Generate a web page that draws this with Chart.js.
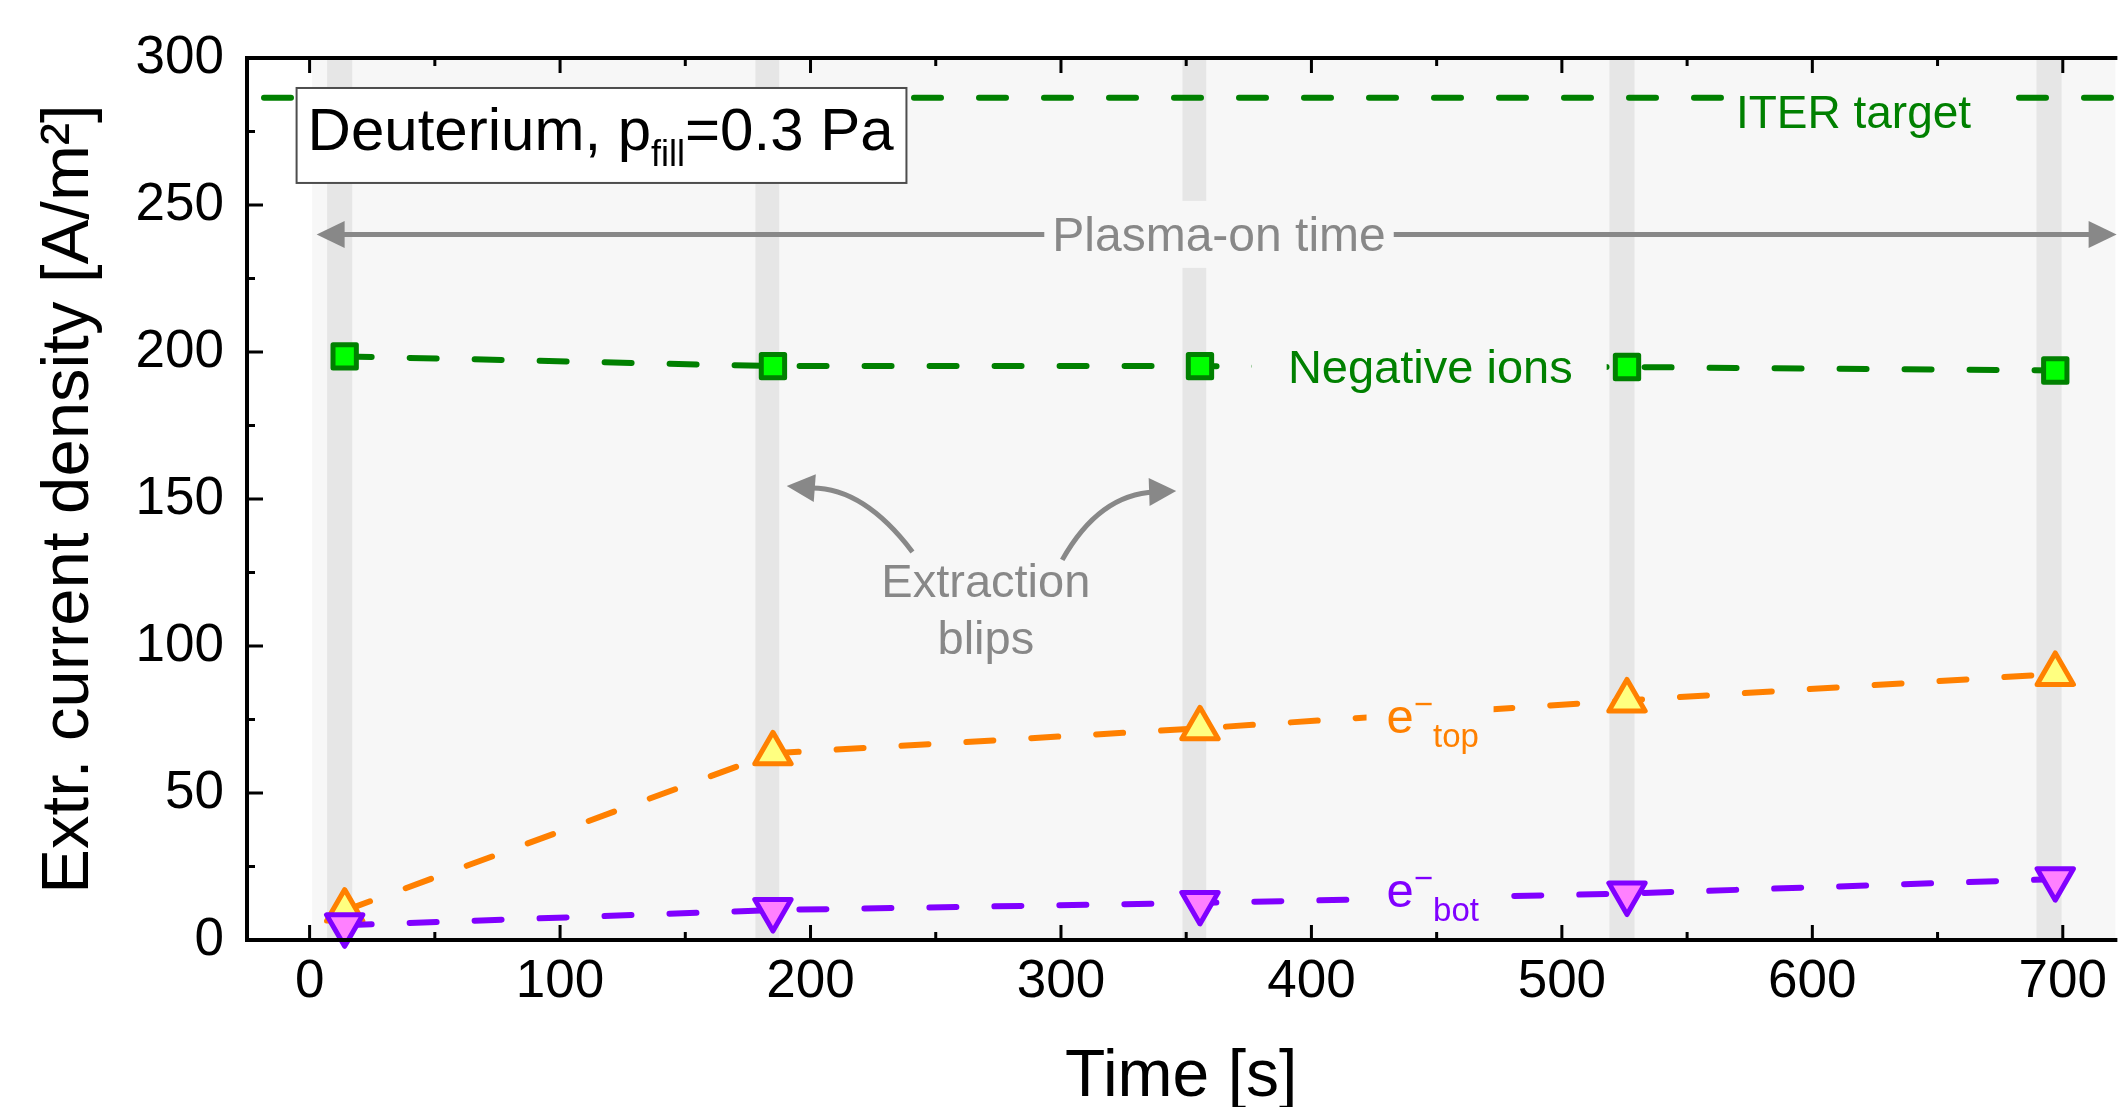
<!DOCTYPE html>
<html lang="en">
<head>
<meta charset="UTF-8" />
<title>Extracted current density during plasma-on time</title>
<style>
  html, body {
    margin: 0;
    padding: 0;
    overflow: hidden;
    background: #fff;
  }
  #currentChart {
    display: block;
  }
</style>
</head>
<body>

<canvas id="currentChart" width="2118" height="1107"></canvas>

<script src="https://cdn.jsdelivr.net/npm/chart.js"></script>
<script>
  // Axis ranges and ticks (the right edge of the original plot is cut off)
  const xRange = [-25, 721];
  const yRange = [0, 300];
  const xTicks = [0, 100, 200, 300, 400, 500, 600, 700];
  const xMinorTicks = [50, 150, 250, 350, 450, 550, 650];
  const yTicks = [0, 50, 100, 150, 200, 250, 300];
  const yMinorTicks = [25, 75, 125, 175, 225, 275];

  // Values read at each extraction blip
  const blipTimes = [14, 185, 355.5, 526, 697];
  const negativeIons = [198.5, 195.2, 195.2, 194.9, 193.7];
  const electronsTop = [10, 63.5, 72, 81.5, 90.5];
  const electronsBot = [5, 10.2, 12.6, 15.8, 20.7];
  const iterTarget = 286.5;

  // Shaded time windows [start, end] in s
  const plasmaOn = [1, 721];
  const blipWindows = [[7, 17], [178, 187.5], [348.5, 358], [519, 529], [689.5, 699.5]];

  const fontFamily = '"Liberation Sans", Arial, Helvetica, sans-serif';
  const green = '#008000', lime = '#00ff00';
  const orange = '#ff8000', yellow = '#ffff80';
  const purple = '#8000ff', pink = '#ff80ff';
  const grey = '#888888', plasmaBg = '#f7f7f7', blipBg = '#e6e6e6';

  const toPoints = vals => blipTimes.map((t, i) => ({ x: t, y: vals[i] }));

  const seriesStyle = {
    borderWidth: 6,
    borderDash: [27, 38],
    borderCapStyle: 'round',
    borderJoinStyle: 'round',
    clip: false
  };

  // helpers for the drawing plugins
  function setFont(ctx, size, color, align) {
    ctx.font = size + 'px ' + fontFamily;
    ctx.fillStyle = color;
    ctx.textAlign = align || 'left';
    ctx.textBaseline = 'alphabetic';
  }

  function arrowHead(ctx, bx, by, tx, ty, half) {
    const dx = tx - bx, dy = ty - by, len = Math.hypot(dx, dy);
    const nx = -dy / len, ny = dx / len;
    ctx.beginPath();
    ctx.moveTo(tx, ty);
    ctx.lineTo(bx + nx * half, by + ny * half);
    ctx.lineTo(bx - nx * half, by - ny * half);
    ctx.closePath();
    ctx.fill();
  }

  // text with a patch of plot background behind it
  function patchedText(ctx, str, x, y, size, color, padL, padR, up, down) {
    setFont(ctx, size, color);
    const w = ctx.measureText(str).width;
    ctx.fillStyle = plasmaBg;
    ctx.fillRect(x - padL, y - up, w + padL + padR, up + down);
    ctx.fillStyle = color;
    ctx.fillText(str, x, y);
  }

  // e^- with subscript, sequential like the original
  function electronLabel(ctx, x, y, sub, color) {
    ctx.fillStyle = plasmaBg;
    ctx.fillRect(x - 20, y - 39, 127, 58);
    setFont(ctx, 49, color);
    ctx.fillText('e', x, y);
    let cx = x + ctx.measureText('e').width;
    setFont(ctx, 33, color);
    ctx.fillText('\u2212', cx, y - 18);
    cx += ctx.measureText('\u2212').width;
    ctx.fillText(sub, cx, y + 14);
  }

  const backgroundPlugin = {
    id: 'plasmaBackground',
    beforeDatasetsDraw(chart) {
      const { ctx, chartArea: a, scales: { x } } = chart;
      ctx.save();
      const x0 = x.getPixelForValue(plasmaOn[0]);
      ctx.fillStyle = plasmaBg;
      ctx.fillRect(x0, a.top, a.right - x0, a.bottom - a.top);
      ctx.fillStyle = blipBg;
      blipWindows.forEach(([s, e]) => {
        const p0 = x.getPixelForValue(s), p1 = x.getPixelForValue(e);
        ctx.fillRect(p0, a.top, p1 - p0, a.bottom - a.top);
      });
      ctx.restore();
      ctx.save();
      ctx.lineJoin = 'round'; // rounder marker corners
    },
    afterDatasetsDraw(chart) {
      chart.ctx.restore();
    }
  };

  const annotationPlugin = {
    id: 'annotations',
    afterDatasetsDraw(chart) {
      const { ctx, chartArea: a, scales: { x, y } } = chart;
      const X = v => x.getPixelForValue(v);
      const Y = v => y.getPixelForValue(v);
      ctx.save();

      // Plasma-on time double arrow
      const ay = Y(240), lx = X(2.8), rx = X(721.5);
      ctx.strokeStyle = grey;
      ctx.fillStyle = grey;
      ctx.lineWidth = 5;
      ctx.beginPath();
      ctx.moveTo(lx + 20, ay);
      ctx.lineTo(rx - 20, ay);
      ctx.stroke();
      arrowHead(ctx, lx + 28, ay, lx, ay, 13.5);
      arrowHead(ctx, rx - 28, ay, rx, ay, 13.5);
      setFont(ctx, 48, grey);
      const pw = ctx.measureText('Plasma-on time').width;
      const pcx = X(363.1), pby = Y(234.4);
      ctx.fillStyle = plasmaBg;
      ctx.fillRect(pcx - pw / 2 - 8, pby - 50, pw + 16, 67);
      setFont(ctx, 48, grey, 'center');
      ctx.fillText('Plasma-on time', pcx, pby);

      // series labels
      patchedText(ctx, 'ITER target', X(569.5), Y(276.2), 46, green, 12, 15, 40, 12);
      patchedText(ctx, 'Negative ions', X(390.6), Y(189.5), 47, green, 36, 34, 40, 12);
      electronLabel(ctx, X(430), Y(70.4), 'top', orange);
      electronLabel(ctx, X(430), Y(11.2), 'bot', purple);

      // Extraction blips note with curved arrows
      setFont(ctx, 47, grey, 'center');
      ctx.fillText('Extraction', X(270), Y(116.7));
      ctx.fillText('blips', X(270), Y(97.3));
      const curves = [
        { s: [240.7, 132], c: [220.8, 154.4], e: [201.7, 153.7], t: [190.5, 154.4] },
        { s: [300.5, 129.3], c: [315.3, 151.7], e: [335.2, 152.4], t: [346, 152.7] }
      ];
      ctx.lineWidth = 5;
      ctx.strokeStyle = grey;
      ctx.fillStyle = grey;
      curves.forEach(cv => {
        ctx.beginPath();
        ctx.moveTo(X(cv.s[0]), Y(cv.s[1]));
        ctx.quadraticCurveTo(X(cv.c[0]), Y(cv.c[1]), X(cv.e[0]) + (cv.t[0] < cv.e[0] ? -6 : 6), Y(cv.e[1]));
        ctx.stroke();
        arrowHead(ctx, X(cv.e[0]), Y(cv.e[1]), X(cv.t[0]), Y(cv.t[1]), 14);
      });

      // condition box
      const bx0 = X(-5.2), bx1 = X(238.3), by0 = Y(289.8), by1 = Y(257.5);
      ctx.fillStyle = '#ffffff';
      ctx.fillRect(bx0, by0, bx1 - bx0, by1 - by0);
      ctx.strokeStyle = '#4d4d4d';
      ctx.lineWidth = 2;
      ctx.strokeRect(bx0, by0, bx1 - bx0, by1 - by0);
      let tx = X(-0.8);
      const tb = Y(268.7);
      setFont(ctx, 60, '#000');
      ctx.fillText('Deuterium, p', tx, tb);
      tx += ctx.measureText('Deuterium, p').width;
      setFont(ctx, 36, '#000');
      ctx.fillText('fill', tx, tb + 16);
      tx += ctx.measureText('fill').width;
      setFont(ctx, 60, '#000');
      ctx.fillText('=0.3 Pa', tx, tb);

      // frame (left, top, bottom; the right side lies outside the picture) with inward ticks
      ctx.strokeStyle = '#000';
      ctx.lineWidth = 4;
      ctx.beginPath();
      ctx.moveTo(a.right + 2, a.top);
      ctx.lineTo(a.left, a.top);
      ctx.lineTo(a.left, a.bottom);
      ctx.lineTo(a.right + 2, a.bottom);
      ctx.stroke();
      ctx.lineWidth = 3;
      ctx.beginPath();
      const tickX = (v, len) => {
        const p = X(v);
        ctx.moveTo(p, a.bottom); ctx.lineTo(p, a.bottom - len);
        ctx.moveTo(p, a.top); ctx.lineTo(p, a.top + len);
      };
      const tickY = (v, len) => {
        const p = Y(v);
        ctx.moveTo(a.left, p); ctx.lineTo(a.left + len, p);
      };
      xTicks.forEach(v => tickX(v, 15));
      xMinorTicks.forEach(v => tickX(v, 8));
      yTicks.forEach(v => tickY(v, 16));
      yMinorTicks.forEach(v => tickY(v, 8));
      ctx.stroke();

      ctx.restore();
    }
  };

  const ctx = document.getElementById('currentChart').getContext('2d');

  new Chart(ctx, {
    type: 'line',
    data: {
      datasets: [
        Object.assign({
          label: 'e- bot',
          data: toPoints(electronsBot),
          borderColor: purple,
          pointStyle: 'triangle',
          pointRotation: 180,
          pointRadius: 21,
          pointBorderWidth: 5,
          pointBackgroundColor: pink,
          pointBorderColor: purple,
          order: 0
        }, seriesStyle),
        Object.assign({
          label: 'e- top',
          data: toPoints(electronsTop),
          borderColor: orange,
          pointStyle: 'triangle',
          pointRadius: 21,
          pointBorderWidth: 5,
          pointBackgroundColor: yellow,
          pointBorderColor: orange,
          order: 1
        }, seriesStyle),
        Object.assign({
          label: 'Negative ions',
          data: toPoints(negativeIons),
          borderColor: green,
          pointStyle: 'rect',
          pointRadius: 16.5,
          pointBorderWidth: 5,
          pointBackgroundColor: lime,
          pointBorderColor: green,
          order: 2
        }, seriesStyle),
        Object.assign({
          label: 'ITER target',
          data: [{ x: xRange[0], y: iterTarget }, { x: xRange[1], y: iterTarget }],
          borderColor: green,
          pointRadius: 0,
          borderDashOffset: 48,
          order: 3
        }, seriesStyle)
      ]
    },
    options: {
      responsive: false,
      animation: false,
      events: [],
      layout: { autoPadding: false, padding: { top: 58, left: 0, right: 0, bottom: 0 } },
      plugins: {
        legend: { display: false },
        tooltip: { enabled: false }
      },
      scales: {
        x: {
          type: 'linear',
          min: xRange[0],
          max: xRange[1],
          afterBuildTicks: s => { s.ticks = xTicks.map(v => ({ value: v })); },
          afterFit: s => { s.height = 167; },
          grid: { display: false, drawTicks: false },
          border: { display: false },
          ticks: {
            padding: 11,
            color: '#000',
            font: { family: fontFamily, size: 53 }
          },
          title: {
            display: true,
            text: 'Time [s]',
            color: '#000',
            padding: { top: 0, bottom: -4 },
            font: { family: fontFamily, size: 66, lineHeight: 1 }
          }
        },
        y: {
          type: 'linear',
          min: yRange[0],
          max: yRange[1],
          afterBuildTicks: s => { s.ticks = yTicks.map(v => ({ value: v })); },
          afterFit: s => { s.width = 247; },
          grid: { display: false, drawTicks: false },
          border: { display: false },
          ticks: {
            padding: 23,
            color: '#000',
            font: { family: fontFamily, size: 53 }
          },
          title: {
            display: true,
            text: 'Extr. current density [A/m\u00b2]',
            color: '#000',
            padding: { top: 36, bottom: 0 },
            font: { family: fontFamily, size: 67, lineHeight: 1 }
          }
        }
      }
    },
    plugins: [backgroundPlugin, annotationPlugin]
  });
</script>

</body>
</html>
